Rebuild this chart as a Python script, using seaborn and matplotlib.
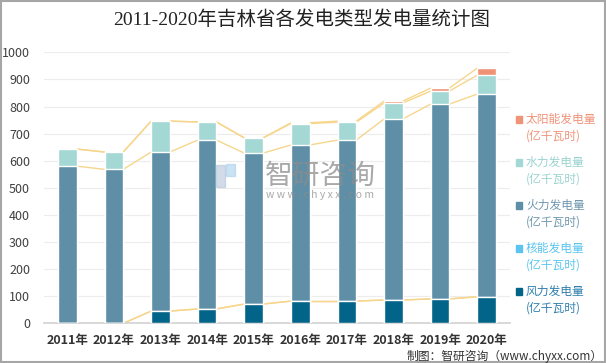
import numpy as np
import pandas as pd
import seaborn as sns
import matplotlib.pyplot as plt
from matplotlib.patches import Rectangle

sns.set_theme(style="white")
plt.rcParams['font.family'] = ['Noto Sans CJK SC', 'DejaVu Sans']

# data (亿千瓦时)
years = ["2011年", "2012年", "2013年", "2014年", "2015年",
         "2016年", "2017年", "2018年", "2019年", "2020年"]
wind = [0, 0, 45, 53, 71, 82, 82, 86, 90, 98]
nuclear = [0, 0, 0, 0, 0, 0, 0, 0, 0, 0]
thermal = [580, 568, 587, 623, 557, 576, 594, 668, 719, 748]
hydro = [63, 64, 114, 67, 56, 79, 66, 59, 48, 70]
solar = [0, 0, 0, 0, 0, 3, 4, 7, 11, 26]

series_names = ["风力发电量", "核能发电量", "火力发电量", "水力发电量", "太阳能发电量"]
series_colors = ["#03648a", "#5bc5ef", "#5e8fa6", "#a3d8d4", "#ef9276"]
text_colors = ["#2f7fae", "#5bc5ef", "#6f97ad", "#9ad3cf", "#f0937a"]
line_color = "#f6d68c"

df = pd.DataFrame({"year": years, "风力发电量": wind, "核能发电量": nuclear,
                   "火力发电量": thermal, "水力发电量": hydro, "太阳能发电量": solar})

# cumulative tops for the stacked bars
cum = df[series_names].cumsum(axis=1)

fig = plt.figure(figsize=(6.06, 3.63), dpi=100)
ax = fig.add_axes([44 / 606, 1 - 323.3 / 363, 466 / 606, 271 / 363])

bar_w = 0.4
# draw tallest stack first, smaller ones on top
for name, col in reversed(list(zip(series_names, series_colors))):
    sns.barplot(x=df["year"], y=cum[name], color=col, width=bar_w,
                saturation=1, ax=ax, zorder=3)

# series lines between neighbouring bars
xs = np.arange(len(years))
for name in series_names:
    vals = cum[name].values
    for i in range(len(years) - 1):
        ax.plot([xs[i] + bar_w / 2, xs[i + 1] - bar_w / 2], [vals[i], vals[i + 1]],
                color=line_color, lw=1, zorder=2, solid_capstyle="butt")

ax.set_ylim(0, 1000)
ax.set_xlim(-0.5, len(years) - 0.5)
ax.set_yticks(np.arange(0, 1001, 100))
ax.yaxis.grid(True, color="#ececec", lw=0.8)
ax.set_axisbelow(True)
for s in ["top", "right", "left"]:
    ax.spines[s].set_visible(False)
ax.spines["bottom"].set_color("#d4d4d4")
ax.set_xlabel("")
ax.set_ylabel("")
ax.tick_params(axis="y", length=0, labelsize=9, labelcolor="#404040", pad=10)
ax.tick_params(axis="x", length=0, labelsize=9, labelcolor="#333333", pad=8)
for lab in ax.get_xticklabels():
    lab.set_fontweight("bold")

# title
fig.text(0.497, 0.945, "2011-2020年吉林省各发电类型发电量统计图",
         ha="center", va="center", fontsize=14, color="#222222",
         family=["Liberation Serif", "Noto Sans CJK SC"])

# legend (top to bottom: reverse stacking order)
for k, idx in enumerate([4, 3, 2, 1, 0]):
    y = 119 + 43 * k
    fig.patches.append(Rectangle((516 / 606, 1 - (y + 3.5) / 363), 6 / 606, 7 / 363,
                                 transform=fig.transFigure, color=series_colors[idx]))
    fig.text(526 / 606, 1 - y / 363, series_names[idx], ha="left", va="center",
             fontsize=8.5, color=text_colors[idx])
    fig.text(526 / 606, 1 - (y + 17) / 363, "(亿千瓦时)", ha="left", va="center",
             fontsize=8.5, color=text_colors[idx])

# watermark
fig.patches.append(Rectangle((216 / 606, 1 - 187 / 363), 9 / 606, 22 / 363,
                             transform=fig.transFigure, color="#b4c4da", alpha=0.6, zorder=5))
fig.patches.append(Rectangle((226 / 606, 1 - 176 / 363), 9 / 606, 12 / 363,
                             transform=fig.transFigure, color="#a9d0ec", alpha=0.6, zorder=5))
fig.text(320 / 606, 1 - 176 / 363, "智研咨询", ha="center", va="center",
         fontsize=20, color="#8c8c8c", alpha=0.75, zorder=5)
fig.text(320 / 606, 1 - 195 / 363, "w w w . c h y x x . c o m", ha="center", va="center",
         fontsize=7.5, color="#8c8c8c", alpha=0.75, zorder=5)

# source note
fig.text(603 / 606, 1 - 356 / 363, "制图：智研咨询（www.chyxx.com）", ha="right", va="center",
         fontsize=8.5, color="#333333")

# figure border
fig.patches.append(Rectangle((0.001, 0.002), 0.997, 0.995, transform=fig.transFigure,
                             fill=False, edgecolor="#a6a6a6", lw=1.5))

fig.savefig("out.png", dpi=100)
